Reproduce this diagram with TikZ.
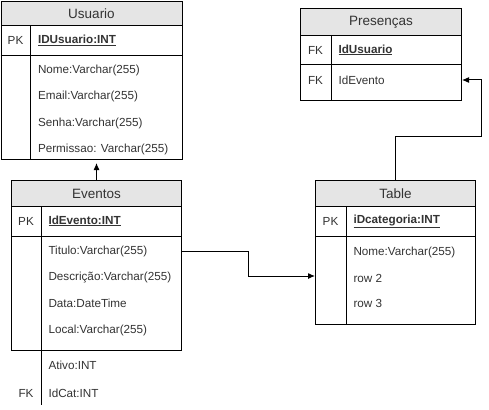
\documentclass[tikz,border=0pt]{standalone}
\usepackage{fontspec}
\setmainfont{Liberation Sans}
\usetikzlibrary{arrows.meta}

\begin{document}
\begin{tikzpicture}[x = 1pt, y = -1pt, line width = 1pt,
	tabela/.style = {draw, inner sep = 0pt, anchor = north west},
	cabeca/.style = {tabela, fill = gray!20, text = black!80, font = \fontsize{13.5}{16}\selectfont},
	campo/.style = {anchor = west, inner sep = 0pt, text = black!80, font = \fontsize{11.7}{14}\selectfont},
	chave/.style = {campo, font = \fontsize{11.7}{14}\selectfont\bfseries},
	sigla/.style = {campo, anchor = center},
	seta/.style = {-{Latex[length = 7pt, width = 6pt]}}
]

	% Definition

	\def\dx{7}

	\useasboundingbox (0, 0) rectangle (489, 409);

	% Usuario

	\node [tabela, minimum width = 181pt, minimum height = 158pt] (usuario) at (0.5, 1) {};
	\node [cabeca, minimum width = 181pt, minimum height = 24.5pt] (usuarioTit) at (0.5, 1) {Usuario};
	\draw (0.5, 55.5) -- (181.5, 55.5);
	\draw (30.5, 25.5) -- (30.5, 159);
	\node [sigla] (usuarioPK) at (15.5, 40.5) {PK};
	\node [chave] (idusuario) at (30.5 + \dx, 40.5) {\underline{IDUsuario:INT}};
	\node [campo] (nome) at (30.5 + \dx, 70) {Nome:Varchar(255)};
	\node [campo] (email) at (30.5 + \dx, 96.5) {Email:Varchar(255)};
	\node [campo] (senha) at (30.5 + \dx, 123) {Senha:Varchar(255)};
	\node [campo] (permissao) at (30.5 + \dx, 149) {Permissao: Varchar(255)};

	% Eventos

	\node [tabela, minimum width = 170pt, minimum height = 170pt] (eventos) at (11, 180) {};
	\node [cabeca, minimum width = 170pt, minimum height = 26pt] (eventosTit) at (11, 180) {Eventos};
	\draw (11, 236) -- (181, 236);
	\draw (41, 206) -- (41, 405);
	\node [sigla] (eventosPK) at (26, 221) {PK};
	\node [chave] (idevento) at (41 + \dx, 221) {\underline{IdEvento:INT}};
	\node [campo] (titulo) at (41 + \dx, 251) {Titulo:Varchar(255)};
	\node [campo] (descricao) at (41 + \dx, 277) {Descrição:Varchar(255)};
	\node [campo] (data) at (41 + \dx, 303) {Data:DateTime};
	\node [campo] (local) at (41 + \dx, 330) {Local:Varchar(255)};
	\node [campo] (ativo) at (41 + \dx, 365) {Ativo:INT};
	\node [sigla] (eventosFK) at (26, 393) {FK};
	\node [campo] (idcat) at (41 + \dx, 393) {IdCat:INT};

	% Presencas

	\node [tabela, minimum width = 161pt, minimum height = 92pt] (presencas) at (300, 8) {};
	\node [cabeca, minimum width = 161pt, minimum height = 27pt] (presencasTit) at (300, 8) {Presenças};
	\draw (300, 65) -- (461, 65);
	\draw (331, 35) -- (331, 100);
	\node [sigla] (presencasFK1) at (315.5, 50) {FK};
	\node [chave] (pusuario) at (331 + \dx, 50) {\underline{IdUsuario}};
	\node [sigla] (presencasFK2) at (315.5, 80) {FK};
	\node [campo] (pevento) at (331 + \dx, 80) {IdEvento};

	% Table

	\node [tabela, minimum width = 160pt, minimum height = 144pt] (categoria) at (315, 180) {};
	\node [cabeca, minimum width = 160pt, minimum height = 26pt] (categoriaTit) at (315, 180) {Table};
	\draw (315, 236) -- (475, 236);
	\draw (346, 206) -- (346, 324);
	\node [sigla] (categoriaPK) at (330.5, 221) {PK};
	\node [chave] (idcategoria) at (346 + \dx, 221) {\underline{iDcategoria:INT}};
	\node [campo] (cnome) at (346 + \dx, 252) {Nome:Varchar(255)};
	\node [campo] (row2) at (346 + \dx, 278) {row 2};
	\node [campo] (row3) at (346 + \dx, 303) {row 3};

	% Connectors

	\coordinate (dobraA) at (248, 276);
	\coordinate (dobraB) at (481, 136);

	\draw [seta, shorten > = 3pt] (eventos.north) -- (eventos.north |- usuario.south);
	\draw [seta] (eventos.east |- titulo) -| (dobraA) -- (dobraA -| categoria.west);
	\draw [seta] (categoria.north) |- (dobraB) |- (pevento -| presencas.east);

\end{tikzpicture}
\end{document}
